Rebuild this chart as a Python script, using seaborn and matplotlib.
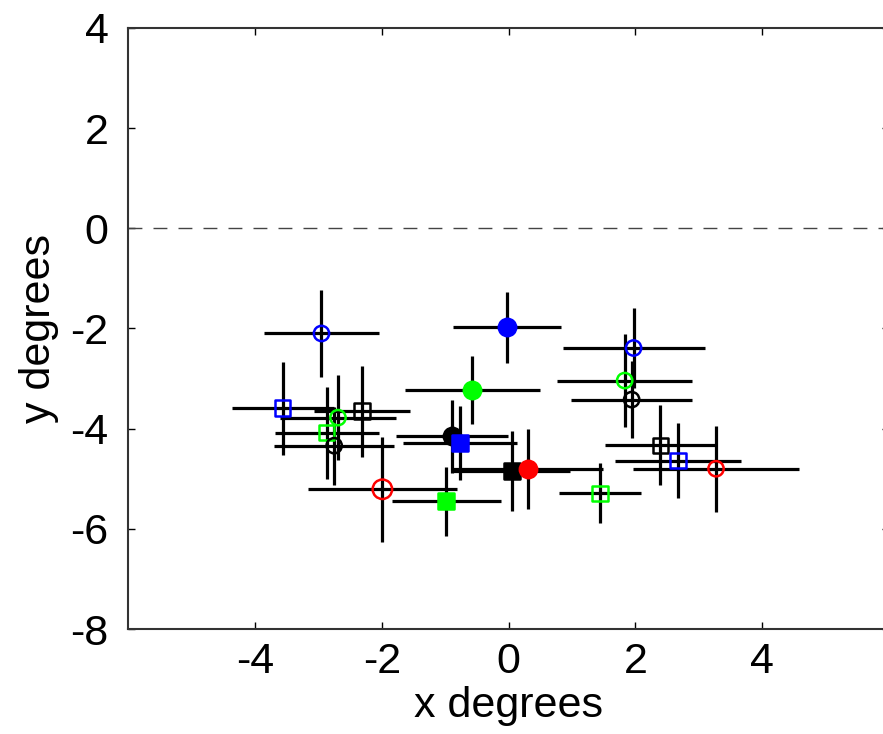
import pandas as pd
import seaborn as sns
import matplotlib.pyplot as plt

# Target positions in degrees, with horizontal / vertical spread
x_deg = [-2.95, -3.56, -2.31, -2.69, -2.87, -2.75, -1.99, -0.98, -0.02, -0.57, -0.89,
         -0.77, 0.05, 0.31, 1.44, 1.97, 1.83, 1.94, 2.39, 2.67, 3.27]
y_deg = [-2.10, -3.59, -3.65, -3.78, -4.08, -4.34, -5.21, -5.45, -1.98, -3.23, -4.15,
         -4.29, -4.85, -4.81, -5.29, -2.39, -3.04, -3.42, -4.33, -4.64, -4.80]
x_err = [0.91, 0.80, 0.76, 0.91, 0.82, 0.95, 1.18, 0.86, 0.85, 1.06, 0.88,
         0.90, 0.92, 1.18, 0.65, 1.12, 1.06, 0.95, 0.87, 0.99, 1.31]
y_err = [0.87, 0.93, 0.91, 0.85, 0.92, 0.78, 1.05, 0.69, 0.70, 0.68, 0.73,
         0.74, 0.80, 0.80, 0.60, 0.79, 0.92, 0.77, 0.80, 0.75, 0.86]
colours = ["blue", "blue", "black", "lime", "lime", "black", "red", "lime", "blue", "lime", "black",
           "blue", "black", "red", "lime", "blue", "lime", "black", "black", "blue", "red"]
shapes = ["o", "s", "s", "o", "s", "o", "o", "s", "o", "o", "o",
          "s", "s", "o", "s", "o", "o", "o", "s", "s", "o"]
filled = [False, False, False, False, False, False, False, True, True, True, True,
          True, True, True, False, False, False, False, False, False, False]
sizes = [11, 11, 11, 11, 11, 11, 14, 12, 12.5, 12.5, 12.5,
         12, 12, 12.5, 11, 11, 11, 11, 11, 11, 11]

df = pd.DataFrame({"x": x_deg, "y": y_deg, "xerr": x_err, "yerr": y_err,
                   "colour": colours, "shape": shapes, "filled": filled, "size": sizes})

sns.set_theme(style="ticks")
plt.rcParams["font.family"] = ["Liberation Sans", "DejaVu Sans"]
plt.rcParams["axes.unicode_minus"] = False
plt.rcParams["text.color"] = "black"
plt.rcParams["axes.labelcolor"] = "black"
plt.rcParams["xtick.color"] = "black"
plt.rcParams["ytick.color"] = "black"

fig = plt.figure(figsize=(8.83, 7.34), dpi=100)
ax = fig.add_axes([0.145, 0.143, 0.862, 0.819])

# dashed reference line at y = 0
ax.axhline(0, color="#444444", lw=1, ls=(0, (10, 8)), zorder=1)

# crosses first, markers on top
ax.errorbar(df["x"], df["y"], xerr=df["xerr"], yerr=df["yerr"], fmt="none",
            ecolor="black", elinewidth=2.3, capsize=0, zorder=2)

for _, r in df.iterrows():
    face = r["colour"] if r["filled"] else "none"
    sns.scatterplot(x=[r["x"]], y=[r["y"]], marker=r["shape"], s=r["size"] ** 2,
                    color=r["colour"], facecolor=face, edgecolor=r["colour"],
                    linewidth=1.8, ax=ax, zorder=3, legend=False)

ax.set_xlim(-6, 6)
ax.set_ylim(-8, 4)
ax.set_xticks([-4, -2, 0, 2, 4])
ax.set_yticks([-8, -6, -4, -2, 0, 2, 4])
ax.tick_params(direction="in", top=True, right=True, length=5, width=1, labelsize=31)
ax.tick_params(axis="x", pad=9)
ax.tick_params(axis="y", pad=14)
for sp in ax.spines.values():
    sp.set_linewidth(1.5)
    sp.set_color("#333333")

ax.set_xlabel("x degrees", fontsize=31, labelpad=3)
ax.set_ylabel("y degrees", fontsize=31, labelpad=8)

fig.savefig("out.png", dpi=100)
